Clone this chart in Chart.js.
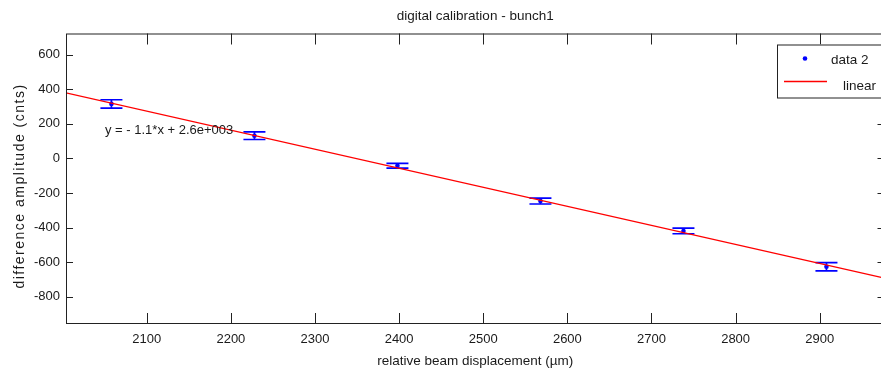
<!DOCTYPE html>
<html>
<head>
<meta charset="utf-8">
<script src="https://cdn.jsdelivr.net/npm/chart.js@4.4.0/dist/chart.umd.min.js"></script>
<style>
html, body { margin: 0; padding: 0; background: #fff; overflow: hidden; }
</style>
</head>
<body>
<canvas id="calibChart" width="890" height="373"></canvas>
<script>
"use strict";

// measured points ("data 2")
const displacement = [2058, 2228, 2398, 2568, 2738, 2908];
const amplitude = [315, 131, -43, -247, -420, -627];
const amplitudeErr = [24, 22, 14, 17, 16, 24];

const fitX = [2004, 2977];
const fitY = [379, -693];

// axes
const xLimits = [2004, 2977];
const yLimits = [-958, 722];
const xTicks = [2100, 2200, 2300, 2400, 2500, 2600, 2700, 2800, 2900];
const yTicks = [-800, -600, -400, -200, 0, 200, 400, 600];

// texts
const chartTitle = "digital calibration - bunch1";
const xLabel = "relative beam displacement (\u00b5m)";
const yLabel = "difference amplitude (cnts)";
const fitText = "y = - 1.1*x + 2.6e+003";
const seriesNames = ["data 2", "linear"];

const FONT = "'Liberation Sans', Arial, sans-serif";
const TEXT = "#1a1a1a";
const BLUE = "#0000ff";
const RED = "#ff0000";

/**
 * Errorbars, box with inward ticks, fit text, y label and legend
 */
const matlabLook = {
    id: "matlabLook",
    beforeDatasetsDraw(chart){
        const {ctx, chartArea, scales: {x, y}} = chart;
        ctx.save();
        ctx.beginPath();
        ctx.rect(chartArea.left, chartArea.top, chartArea.right - chartArea.left, chartArea.bottom - chartArea.top);
        ctx.clip();
        ctx.strokeStyle = BLUE;
        ctx.lineWidth = 1.7;
        for(let i = 0; i < displacement.length; i++){
            const px = x.getPixelForValue(displacement[i]);
            const top = y.getPixelForValue(amplitude[i] + amplitudeErr[i]);
            const bot = y.getPixelForValue(amplitude[i] - amplitudeErr[i]);
            ctx.beginPath();
            ctx.moveTo(px, top);
            ctx.lineTo(px, bot);
            ctx.moveTo(px - 11, top);
            ctx.lineTo(px + 11, top);
            ctx.moveTo(px - 11, bot);
            ctx.lineTo(px + 11, bot);
            ctx.stroke();
        }
        ctx.restore();
    },
    afterDraw(chart){
        const {ctx, chartArea: a, scales: {x, y}} = chart;
        ctx.save();

        // box
        ctx.strokeStyle = "#222";
        ctx.lineWidth = 1;
        ctx.strokeRect(a.left + 0.5, a.top + 0.5, a.right - a.left - 1, a.bottom - a.top - 1);

        // inward ticks
        ctx.beginPath();
        xTicks.forEach(v => {
            const px = Math.round(x.getPixelForValue(v)) + 0.5;
            ctx.moveTo(px, a.bottom);
            ctx.lineTo(px, a.bottom - 11);
            ctx.moveTo(px, a.top);
            ctx.lineTo(px, a.top + 11);
        });
        yTicks.forEach(v => {
            const py = Math.round(y.getPixelForValue(v)) + 0.5;
            ctx.moveTo(a.left, py);
            ctx.lineTo(a.left + 7, py);
            ctx.moveTo(a.right, py);
            ctx.lineTo(a.right - 7, py);
        });
        ctx.stroke();

        // fit equation
        ctx.fillStyle = TEXT;
        ctx.font = "13px " + FONT;
        ctx.textAlign = "left";
        ctx.textBaseline = "middle";
        ctx.fillText(fitText, a.left + 39, a.top + 96.5);

        // y label
        ctx.save();
        ctx.translate(20, 186);
        ctx.rotate(-Math.PI / 2);
        ctx.font = "14px " + FONT;
        ctx.letterSpacing = "1.5px";
        ctx.textAlign = "center";
        ctx.fillText(yLabel, 0, 0);
        ctx.restore();

        // legend
        const lx = 777, ly = 44.5, lw = a.right - 3 - lx, lh = 53;
        ctx.fillStyle = "#fff";
        ctx.fillRect(lx, ly, lw, lh);
        ctx.strokeStyle = "#222";
        ctx.lineWidth = 1;
        ctx.strokeRect(lx + 0.5, ly + 0.5, lw, lh);
        ctx.fillStyle = BLUE;
        ctx.beginPath();
        ctx.arc(805, 58.5, 2.3, 0, Math.PI * 2);
        ctx.fill();
        ctx.strokeStyle = RED;
        ctx.lineWidth = 1.5;
        ctx.beginPath();
        ctx.moveTo(784, 81.5);
        ctx.lineTo(827, 81.5);
        ctx.stroke();
        ctx.fillStyle = TEXT;
        ctx.font = "13.5px " + FONT;
        ctx.textAlign = "left";
        ctx.fillText(seriesNames[0], 831, 60);
        ctx.fillText(seriesNames[1], 843, 86);

        ctx.restore();
    }
};

const ctx = document.getElementById("calibChart");
new Chart(ctx, {
    type: "scatter",
    data: {
        datasets: [{
            label: seriesNames[0],
            data: displacement.map((v, i) => ({x: v, y: amplitude[i]})),
            pointRadius: 2.3,
            pointBackgroundColor: BLUE,
            pointBorderWidth: 0,
            showLine: false,
            order: 2
        }, {
            label: seriesNames[1],
            type: "line",
            data: fitX.map((v, i) => ({x: v, y: fitY[i]})),
            borderColor: RED,
            borderWidth: 1.2,
            pointRadius: 0,
            fill: false,
            order: 1
        }]
    },
    options: {
        responsive: false,
        devicePixelRatio: 1,
        animation: false,
        layout: {padding: {left: 0, right: 5.5, top: 0, bottom: 0}},
        plugins: {
            legend: {display: false},
            tooltip: {enabled: false},
            title: {
                display: true,
                text: chartTitle,
                fullSize: false,
                color: TEXT,
                font: {family: FONT, size: 13.5, weight: "normal", lineHeight: 1.2},
                padding: {top: 7.8, bottom: 9.5}
            }
        },
        scales: {
            x: {
                type: "linear",
                min: xLimits[0],
                max: xLimits[1],
                afterBuildTicks: s => { s.ticks = xTicks.map(v => ({value: v})); },
                afterFit: s => { s.height = 49; },
                grid: {display: false, drawTicks: false},
                border: {display: false},
                ticks: {
                    callback: v => String(v),
                    color: TEXT,
                    font: {family: FONT, size: 13},
                    padding: 8,
                    maxRotation: 0,
                    autoSkip: false
                },
                title: {
                    display: true,
                    text: xLabel,
                    color: TEXT,
                    font: {family: FONT, size: 13.5},
                    padding: {top: 0, bottom: 3.5}
                }
            },
            y: {
                type: "linear",
                min: yLimits[0],
                max: yLimits[1],
                afterBuildTicks: s => { s.ticks = yTicks.map(v => ({value: v})); },
                afterFit: s => { s.width = 66; },
                grid: {display: false, drawTicks: false},
                border: {display: false},
                ticks: {
                    callback: v => String(v),
                    color: TEXT,
                    font: {family: FONT, size: 13},
                    padding: 6
                }
            }
        }
    },
    plugins: [matlabLook]
});
</script>
</body>
</html>
